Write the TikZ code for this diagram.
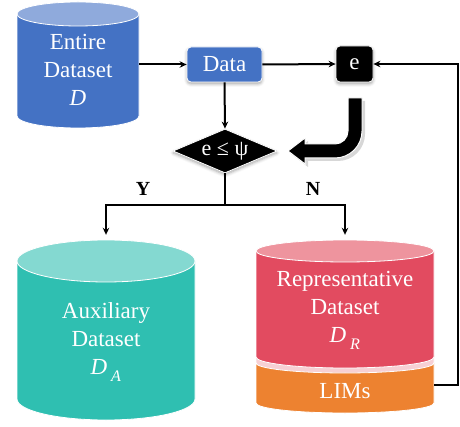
\documentclass[tikz,border=0pt]{standalone}
\usepackage{fontspec}
\setmainfont{Liberation Serif}
\usetikzlibrary{shapes.geometric,arrows.meta,shadows.blur}

\definecolor{dsblue}{HTML}{4472C4}
\definecolor{dsbluetop}{HTML}{8FAADC}
\definecolor{auxteal}{HTML}{2FBFB1}
\definecolor{auxtop}{HTML}{84D9D1}
\definecolor{repred}{HTML}{E24B60}
\definecolor{reptop}{HTML}{EE949E}
\definecolor{limorange}{HTML}{ED8230}
\definecolor{seam}{HTML}{F7D0D4}

% database cylinder: x-left, x-right, top centre y, bottom centre y, y radius, body colour, lid colour
\newcommand\dbcyl[7]{%
  \fill[#6, draw=white, line width=0.8pt] (#1,#3) -- (#1,#4)
    .. controls (#1,{#4+0.5523*#5}) and ({(#1+#2)/2-0.5523*(#2-#1)/2},{#4+#5}) .. ({(#1+#2)/2},{#4+#5})
    .. controls ({(#1+#2)/2+0.5523*(#2-#1)/2},{#4+#5}) and (#2,{#4+0.5523*#5}) .. (#2,#4)
    -- (#2,#3) -- cycle;
  \fill[#7, draw=white, line width=0.8pt] ({(#1+#2)/2},#3) ellipse [x radius={(#2-#1)/2}, y radius=#5];
}
% band of a cylinder between two front arcs: x-left, x-right, upper side y, lower side y, y radius, colour
\newcommand\dbslice[6]{%
  \fill[#6, draw=white, line width=0.8pt] (#1,#3) -- (#1,#4)
    .. controls (#1,{#4+0.5523*#5}) and ({(#1+#2)/2-0.5523*(#2-#1)/2},{#4+#5}) .. ({(#1+#2)/2},{#4+#5})
    .. controls ({(#1+#2)/2+0.5523*(#2-#1)/2},{#4+#5}) and (#2,{#4+0.5523*#5}) .. (#2,#4)
    -- (#2,#3)
    .. controls (#2,{#3+0.5523*#5}) and ({(#1+#2)/2+0.5523*(#2-#1)/2},{#3+#5}) .. ({(#1+#2)/2},{#3+#5})
    .. controls ({(#1+#2)/2-0.5523*(#2-#1)/2},{#3+#5}) and (#1,{#3+0.5523*#5}) .. (#1,#3)
    -- cycle;
}
% thick bent arrow from the error box down and back to the decision
\def\bentarrow{(348,98) -- (362,98) -- (362,131)
  .. controls (362,145.9) and (349.9,158) .. (335,158)
  -- (305,158) -- (305,164) -- (288,151) -- (305,138) -- (305,144) -- (335,144)
  .. controls (342.2,144) and (348,138.2) .. (348,131) -- cycle}

\tikzset{
  arr/.style={-{Stealth[length=7pt,width=6.5pt]}, line width=2pt},
  plain/.style={line width=2pt},
  anchorbox/.style={rectangle, draw=none, inner sep=0pt},
  lbl/.style={align=center, text=white, font=\fontsize{23}{28}\selectfont},
  yn/.style={font=\fontsize{20}{24}\selectfont\bfseries},
  glow/.style={blur shadow={shadow xshift=0pt, shadow yshift=-2pt, shadow blur radius=3pt, shadow opacity=35}},
}

\begin{document}
\begin{tikzpicture}[x=1pt, y=-1pt]
\useasboundingbox (0,0) rectangle (460,427);

% ---------- databases ----------
\dbcyl{17}{139}{14}{116}{12}{dsblue}{dsbluetop}
\node[anchorbox, minimum width=122pt, minimum height=126pt] (entire) at (78,65) {};
\node[lbl] (entiretext) at (78,70) {Entire\\Dataset\\\textit{D}};

\dbcyl{17}{195}{261}{399}{21}{auxteal}{auxtop}
\node[anchorbox, minimum width=178pt, minimum height=180pt] (aux) at (106,330) {};
\node[lbl] (auxtext) at (106,342) {Auxiliary\\Dataset\\\textit{D}\,\raisebox{-0.3ex}{\textsubscript{\textit{A}}}};

\dbslice{256}{434}{355}{365}{11}{seam}
\dbcyl{256}{434}{251}{357}{11}{repred}{reptop}
\dbslice{256}{434}{363}{403}{10}{limorange}
\node[anchorbox, minimum width=178pt, minimum height=173pt] (rep) at (345,326.5) {};
\node[lbl] (reptext) at (345,310) {Representative\\Dataset\\\textit{D}\,\raisebox{-0.3ex}{\textsubscript{\textit{R}}}};
\node[lbl, minimum width=178pt, inner sep=0pt] (lims) at (345,391) {LIMs};

% ---------- process boxes ----------
\node[rectangle, rounded corners=4pt, fill=dsblue, draw=white, line width=0.8pt,
      minimum width=75pt, minimum height=35pt, inner sep=0pt, glow,
      text=white, font=\fontsize{23}{28}\selectfont] (data) at (224.5,64.5) {Data};
\node[rectangle, rounded corners=4pt, fill=black, draw=white, line width=0.8pt,
      minimum width=37pt, minimum height=36pt, inner sep=0pt, glow,
      text=white, font=\fontsize{23}{28}\selectfont] (err) at (354.5,64) {e};
\node[diamond, aspect=2.36, fill=black, draw=white, line width=0.8pt, inner sep=0pt,
      minimum width=104pt, minimum height=44pt, glow,
      text=white, font=\fontsize{22}{26}\selectfont] (check) at (225,151) {e ≤ ψ};

% bent feedback arrow
\fill[black!45, opacity=0.35, shift={(3,3)}] \bentarrow;
\fill[black, draw=white, line width=1pt] \bentarrow;

% ---------- connectors ----------
\draw[arr] (entire.east |- data.west) -- (data.west);
\draw[arr] (data.east) -- (err.west);
\draw[arr] (data.south) -- (check.north);

\coordinate (fork) at (225,205);
\draw[plain] (check.south) -- (fork);
\draw[arr, shorten >=5pt] (fork) -| (aux.north);
\draw[arr, shorten >=5pt] (fork) -| (rep.north);

\coordinate (loopcorner) at (458,385);
\draw[arr] (loopcorner -| lims.east) -- (loopcorner) |- (err.east);

\node[yn] (yes) at (143,189) {Y};
\node[yn] (no) at (313,189) {N};
\end{tikzpicture}
\end{document}
